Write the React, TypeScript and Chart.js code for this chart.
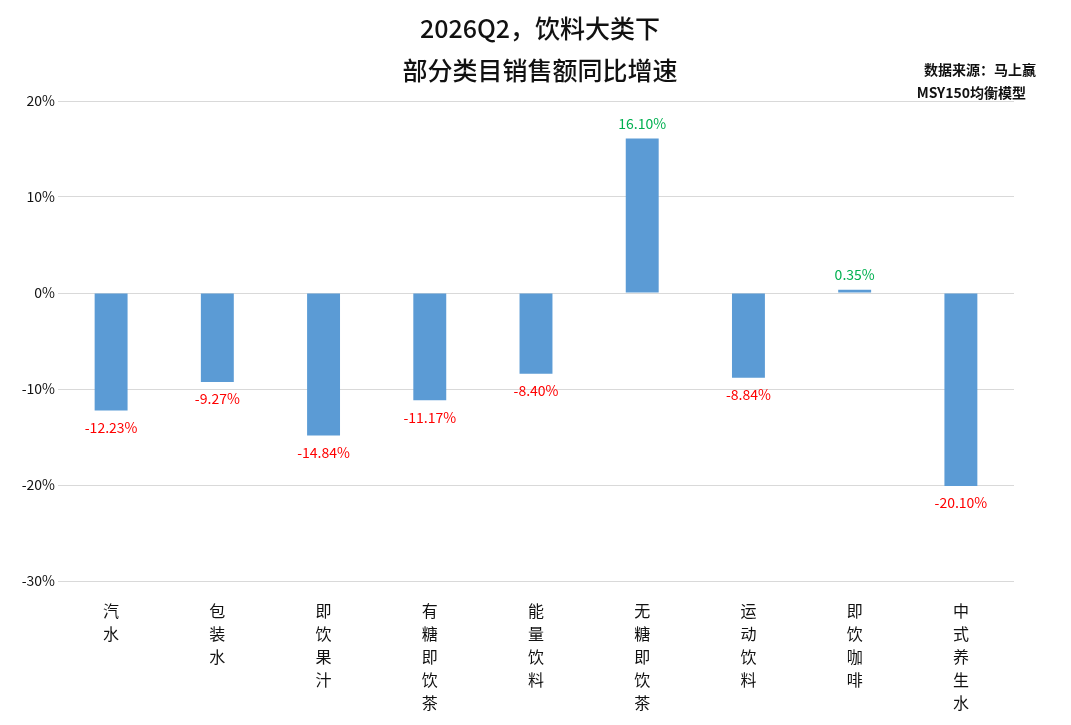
import React, { useEffect, useRef } from "react";
import { Chart, registerables } from "chart.js";
Chart.register(...registerables);

const categories = ["汽水", "包装水", "即饮果汁", "有糖即饮茶", "能量饮料", "无糖即饮茶", "运动饮料", "即饮咖啡", "中式养生水"];
const values = [-12.23, -9.27, -14.84, -11.17, -8.4, 16.1, -8.84, 0.35, -20.1];
const titleLines = ["2026Q2，饮料大类下", "部分类目销售额同比增速"];
const sourceLines = ["数据来源：马上赢", "MSY150均衡模型"];

const FONT = "'Noto Sans CJK SC', 'DejaVu Sans', sans-serif";

export default function App() {
  const ref = useRef<HTMLCanvasElement>(null);
  useEffect(() => {
    const overlay = {
      id: "overlay",
      afterDraw(chart: any) {
        const ctx = chart.ctx;
        ctx.save();
        ctx.fillStyle = "#111";
        ctx.textAlign = "center";
        ctx.textBaseline = "middle";
        ctx.font = `500 25px ${FONT}`;
        ctx.fillText(titleLines[0], 540, 28);
        ctx.fillText(titleLines[1], 540, 70);
        ctx.textAlign = "right";
        ctx.font = `bold 14px ${FONT}`;
        ctx.fillText(sourceLines[0], 1036, 70);
        ctx.fillText(sourceLines[1], 1026, 93);
        const meta = chart.getDatasetMeta(0);
        ctx.font = `14px ${FONT}`;
        ctx.textAlign = "center";
        meta.data.forEach((bar: any, i: number) => {
          const v = values[i];
          const txt = v.toFixed(2) + "%";
          if (v < 0) {
            ctx.fillStyle = "#ff0000";
            ctx.textBaseline = "top";
            ctx.fillText(txt, bar.x, bar.y + 10);
          } else {
            ctx.fillStyle = "#00b050";
            ctx.textBaseline = "bottom";
            ctx.fillText(txt, bar.x, bar.y - 8);
          }
        });
        ctx.restore();
      },
    };
    const chart = new Chart(ref.current!, {
      type: "bar",
      data: {
        labels: categories.map((c) => c.split("")),
        datasets: [{ data: values, backgroundColor: "#5b9bd5", barPercentage: 0.31, categoryPercentage: 1 }],
      },
      options: {
        animation: false,
        responsive: false,
        layout: { padding: { top: 101, right: 57, left: 8, bottom: 0 } },
        plugins: { legend: { display: false }, tooltip: { enabled: false } },
        scales: {
          y: {
            min: -30,
            max: 20,
            ticks: { stepSize: 10, callback: (v: any) => v + "%", color: "#111", font: { size: 14, family: FONT } },
            grid: { color: "#d9d9d9", drawTicks: false },
            border: { display: false },
            afterFit: (s: any) => { s.width = 50; },
          },
          x: {
            grid: { display: false },
            border: { display: false },
            ticks: { color: "#111", maxRotation: 0, font: { size: 16, family: FONT, lineHeight: 1.45 }, padding: 10 },
          },
        },
      },
      plugins: [overlay],
    });
    return () => chart.destroy();
  }, []);
  return (
    <div style={{ position: "fixed", left: 0, top: 0, width: 1071, height: 725, background: "#fff" }}>
      <canvas ref={ref} width={1071} height={725} />
    </div>
  );
}
